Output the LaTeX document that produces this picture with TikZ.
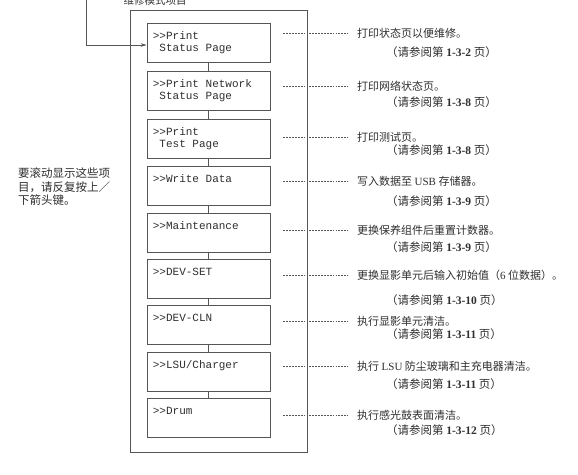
\documentclass[tikz,border=0pt]{standalone}
\usepackage{fontspec}
\usepackage{tikz}
\usetikzlibrary{arrows.meta}
\setmainfont{Liberation Serif}
\newfontfamily\cjk{Noto Sans CJK SC}
\newfontfamily\latin{Liberation Serif}
\newfontfamily\mono{Liberation Mono}
\newcommand{\seepage}[1]{（请参阅第 {\latin\bfseries #1} 页）}

\definecolor{ink}{HTML}{2E2E2E}
\definecolor{rule}{HTML}{555555}

\begin{document}
\begin{tikzpicture}[x=1pt, y=-1pt,
    menubox/.style={draw=rule, line width=0.7pt, minimum width=123pt, minimum height=39pt, inner sep=0pt},
    menulabel/.style={anchor=north west, inner sep=0pt, xshift=6pt, yshift=-9pt, align=left,
        text=ink, font=\mono\fontsize{11}{12}\selectfont},
    desc/.style={anchor=west, inner sep=0pt, text=ink, font=\cjk\fontsize{11}{12}\selectfont},
    pageref/.style={desc, font=\cjk\fontsize{11.5}{12}\selectfont},
    leader/.style={draw=rule, line width=0.45pt, dash pattern=on 1.8pt off 1.1pt, shorten <=13pt, shorten >=9pt},
    every node/.style={text=ink}]
    \useasboundingbox (0,0) rectangle (578,474);

    % title and frame
    \node[font=\cjk\fontsize{10.5}{12}\selectfont] (title) at (155,0.5) {维修模式项目};
    \draw[rule, line width=0.7pt] (130,10) rectangle (307,452);

    % menu items
    \node[menubox, label={[menulabel]north west:{>>Print\\\hphantom{>}Status Page}}] (b1) at (208.5,42.5) {};
    \node[menubox, label={[menulabel]north west:{>>Print Network\\\hphantom{>}Status Page}}] (b2) at (208.5,90.5) {};
    \node[menubox, label={[menulabel]north west:{>>Print\\\hphantom{>}Test Page}}] (b3) at (208.5,138.5) {};
    \node[menubox, label={[menulabel]north west:{>>Write Data}}] (b4) at (208.5,185.5) {};
    \node[menubox, label={[menulabel]north west:{>>Maintenance}}] (b5) at (208.5,232.5) {};
    \node[menubox, label={[menulabel]north west:{>>DEV-SET}}] (b6) at (208.5,278.5) {};
    \node[menubox, label={[menulabel]north west:{>>DEV-CLN}}] (b7) at (208.5,324.5) {};
    \node[menubox, label={[menulabel]north west:{>>LSU/Charger}}] (b8) at (208.5,371.5) {};
    \node[menubox, label={[menulabel]north west:{>>Drum}}] (b9) at (208.5,417.5) {};

    % links between items
    \foreach \i/\j in {1/2,2/3,3/4,4/5,5/6,6/7,7/8,8/9}
        \draw[rule, line width=0.7pt] (b\i.south) -- (b\j.north);

    % entry arrow
    \coordinate (entry) at (86,-5);
    \draw[rule, line width=0.7pt, -{Stealth[length=6pt,width=3.5pt]}] (entry) |- ([yshift=-2.5pt]b1.west);

    % scroll hint
    \node[anchor=north west, inner sep=0pt, align=left, font=\cjk\fontsize{11.5}{13.5}\selectfont] (hint) at (18,168)
        {要滚动显示这些项\\目，请反复按上／\\下箭头键。};

    % descriptions
    \node[desc] (d1) at (357,33) {打印状态页以便维修。};
    \node[pageref] (p1) at (386,52) {\seepage{1-3-2}};
    \node[desc] (d2) at (357,86) {打印网络状态页。};
    \node[pageref] (p2) at (386,102) {\seepage{1-3-8}};
    \node[desc] (d3) at (357,137) {打印测试页。};
    \node[pageref] (p3) at (386,150) {\seepage{1-3-8}};
    \node[desc] (d4) at (357,181) {写入数据至 {\latin USB} 存储器。};
    \node[pageref] (p4) at (386,201) {\seepage{1-3-9}};
    \node[desc] (d5) at (357,230) {更换保养组件后重置计数器。};
    \node[pageref] (p5) at (386,247) {\seepage{1-3-9}};
    \node[desc] (d6) at (357,275) {更换显影单元后输入初始值（{\latin 6} 位数据）。};
    \node[pageref] (p6) at (386,300) {\seepage{1-3-10}};
    \node[desc] (d7) at (357,321) {执行显影单元清洁。};
    \node[pageref] (p7) at (386,334) {\seepage{1-3-11}};
    \node[desc] (d8) at (357,366) {执行 {\latin LSU} 防尘玻璃和主充电器清洁。};
    \node[pageref] (p8) at (386,384) {\seepage{1-3-11}};
    \node[desc] (d9) at (357,415) {执行感光鼓表面清洁。};
    \node[pageref] (p9) at (386,430) {\seepage{1-3-12}};

    % leaders
    \foreach \i in {1,...,9}
        \draw[leader] (b\i.east |- d\i.west) -- (d\i.west);
\end{tikzpicture}
\end{document}
